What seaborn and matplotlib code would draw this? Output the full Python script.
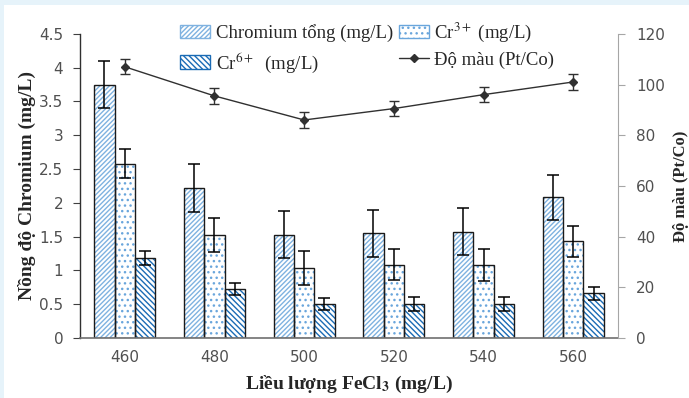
import numpy as np
import pandas as pd
import matplotlib
matplotlib.use("Agg")
import matplotlib.pyplot as plt
from matplotlib.patches import Patch, Rectangle
from matplotlib.lines import Line2D
import seaborn as sns

# Data
doses = ["460", "480", "500", "520", "540", "560"]
cr_total = [3.75, 2.22, 1.53, 1.55, 1.57, 2.08]
cr_total_err = [0.35, 0.35, 0.35, 0.35, 0.35, 0.33]
cr3 = [2.58, 1.52, 1.04, 1.08, 1.08, 1.43]
cr3_err = [0.22, 0.25, 0.25, 0.23, 0.24, 0.23]
cr6 = [1.18, 0.72, 0.50, 0.50, 0.50, 0.66]
cr6_err = [0.10, 0.09, 0.09, 0.10, 0.10, 0.10]
color_pt = [107, 95.5, 86, 90.5, 96, 101]
color_err = [3, 3, 3, 3, 3, 3]

series = ["Chromium tổng (mg/L)", "Cr$^{3+}$ (mg/L)", "Cr$^{6+}$  (mg/L)"]
values = [cr_total, cr3, cr6]
errors = [cr_total_err, cr3_err, cr6_err]

df = pd.DataFrame({
    "dose": doses * 3,
    "series": np.repeat(series, len(doses)),
    "value": cr_total + cr3 + cr6,
})

sns.set_style("white")
plt.rcParams["font.family"] = ["Liberation Serif", "DejaVu Serif"]
plt.rcParams["mathtext.fontset"] = "stix"
plt.rcParams["hatch.linewidth"] = 1.0

fig = plt.figure(figsize=(6.89, 3.98), dpi=100, facecolor="#e6f3fa")
fig.patches.append(Rectangle((4 / 689, 0), 1, 1 - 5 / 398, transform=fig.transFigure,
                             facecolor="white", edgecolor="none", zorder=-10))
ax = fig.add_axes([0.116, 0.151, 0.781, 0.764])

sns.barplot(data=df, x="dose", y="value", hue="series", order=doses,
            hue_order=series, errorbar=None, width=0.68, ax=ax, legend=False)

styles = [
    dict(face="white", hatch="///////", hcolor="#7fb2e0"),
    dict(face="white", hatch="...", hcolor="#6aa6dc"),
    dict(face="white", hatch="\\\\\\\\\\\\", hcolor="#1a6bb5"),
]

bar_conts = list(ax.containers)
for k, cont in enumerate(bar_conts):
    st = styles[k]
    for j, p in enumerate(cont.patches):
        p.set_facecolor(st["face"])
        p.set_hatch(st["hatch"])
        p.set_edgecolor(st["hcolor"])
        p.set_linewidth(0)
        ax.add_patch(Rectangle(p.get_xy(), p.get_width(), p.get_height(), fill=False,
                               edgecolor="#1a1a1a", linewidth=1.0, zorder=p.get_zorder() + 0.1))
        cx = p.get_x() + p.get_width() / 2
        ax.errorbar(cx, values[k][j], yerr=errors[k][j], color="black", lw=1.1,
                    capsize=4, capthick=1.1, zorder=5)

ax.set_xlim(-0.5, 5.5)
ax.set_ylim(0, 4.5)
ax.set_yticks(np.arange(0, 4.51, 0.5))
ax.set_yticklabels([f"{v:g}" for v in np.arange(0, 4.51, 0.5)])
for lab in ax.get_yticklabels() + ax.get_xticklabels():
    lab.set_fontfamily("DejaVu Sans")
    lab.set_fontsize(11)
    lab.set_color("#505050")
ax.tick_params(axis="y", direction="out", length=5, width=0.8, color="#404040", left=True, pad=7)
ax.tick_params(axis="x", length=0, pad=9)
ax.set_xlabel("Liều lượng FeCl$_\\mathbf{3}$ (mg/L)", fontsize=14, fontweight="bold", labelpad=6)
ax.set_ylabel("Nồng độ Chromium (mg/L)", fontsize=14, fontweight="bold")
ax.yaxis.set_label_coords(-0.082, 0.5)
for s in ["top", "right"]:
    ax.spines[s].set_visible(False)
ax.spines["left"].set_color("#303030")
ax.spines["bottom"].set_color("#707070")
ax.spines["left"].set_linewidth(1.0)
ax.spines["bottom"].set_linewidth(1.2)

# Colour (Pt/Co) on secondary axis
ax2 = ax.twinx()
ax2.errorbar(np.arange(len(doses)), color_pt, yerr=color_err, color="#303030", lw=1.0,
             marker="D", markersize=4.5, capsize=3.5, capthick=1.0, zorder=6)
ax2.set_ylim(0, 120)
ax2.set_yticks(range(0, 121, 20))
for lab in ax2.get_yticklabels():
    lab.set_fontfamily("DejaVu Sans")
    lab.set_fontsize(11)
    lab.set_color("#505050")
ax2.tick_params(axis="y", direction="out", length=5, width=0.8, color="#a6a6a6", right=True, pad=8)
ax2.set_ylabel("Độ màu (Pt/Co)", fontsize=12, fontweight="bold", labelpad=6)
for s in ["top", "left", "bottom"]:
    ax2.spines[s].set_visible(False)
ax2.spines["right"].set_color("#a6a6a6")

handles = [
    Patch(facecolor="white", hatch=styles[0]["hatch"], edgecolor=styles[0]["hcolor"], label=series[0]),
    Patch(facecolor="white", hatch=styles[2]["hatch"], edgecolor=styles[2]["hcolor"], label=series[2]),
    Patch(facecolor="white", hatch=styles[1]["hatch"], edgecolor=styles[1]["hcolor"], label=series[1]),
    Line2D([0], [0], color="#303030", marker="D", markersize=4.5, lw=1.0, label="Độ màu (Pt/Co)"),
]
fig.legend(handles=handles, loc="upper center", bbox_to_anchor=(0.533, 0.99), ncol=2,
           frameon=False, fontsize=13.5, handlelength=1.6, handleheight=0.7,
           columnspacing=0.3, handletextpad=0.3, labelspacing=0.4)

fig.savefig("out.png", dpi=100, facecolor=fig.get_facecolor())
